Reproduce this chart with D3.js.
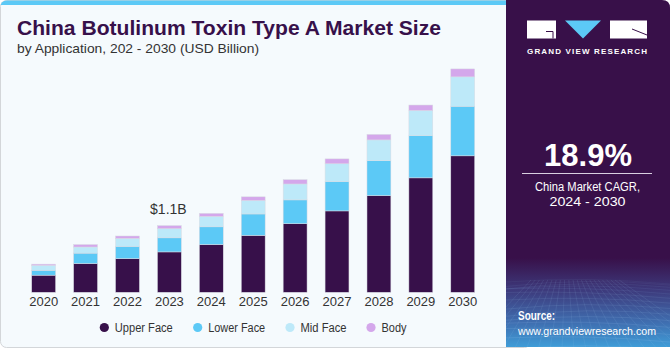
<!DOCTYPE html>
<html>
<head>
<meta charset="utf-8">
<script src="https://cdn.jsdelivr.net/npm/d3@7"></script>
<style>
  html, body { margin: 0; padding: 0; background: #ffffff; }
  svg { display: block; font-family: "Liberation Sans", Arial, sans-serif; }
</style>
</head>
<body>
<svg id="chart" width="670" height="350"></svg>
<script>
// ---- data ----
const years = ["2020","2021","2022","2023","2024","2025","2026","2027","2028","2029","2030"];
const upperFace = [0.28, 0.47, 0.55, 0.66, 0.78, 0.93, 1.12, 1.33, 1.58, 1.87, 2.23];
const lowerFace = [0.08, 0.17, 0.20, 0.23, 0.29, 0.35, 0.39, 0.48, 0.57, 0.69, 0.81];
const midFace   = [0.08, 0.10, 0.13, 0.15, 0.17, 0.22, 0.26, 0.29, 0.34, 0.41, 0.48];
const body      = [0.02, 0.04, 0.04, 0.05, 0.05, 0.06, 0.07, 0.08, 0.09, 0.09, 0.13];
const seriesNames = ["Upper Face", "Lower Face", "Mid Face", "Body"];
const seriesColors = ["#37104a", "#5cc9f6", "#bde9f9", "#d4a7eb"];
const annotationYear = "2023";
const annotationText = "$1.1B";
const titleText = "China Botulinum Toxin Type A Market Size";
const subtitleText = "by Application, 202 - 2030 (USD Billion)";
const cagrText = "18.9%";
const cagrLabel = ["China Market CAGR,", "2024 - 2030"];

// ---- build table ----
const table = years.map((y, i) => ({
  year: y,
  "Upper Face": upperFace[i],
  "Lower Face": lowerFace[i],
  "Mid Face": midFace[i],
  "Body": body[i]
}));
const stack = d3.stack().keys(seriesNames)(table);

const svg = d3.select("#chart");
const defs = svg.append("defs");

function fitText(sel, len, mode) {
  return sel.attr("textLength", len).attr("lengthAdjust", mode || "spacingAndGlyphs");
}

// ---- card background ----
defs.append("clipPath").attr("id", "cardClip")
  .append("rect").attr("x", 0.5).attr("y", 0.5).attr("width", 530).attr("height", 347).attr("rx", 6);
svg.append("rect").attr("x", 0.5).attr("y", 0.5).attr("width", 530).attr("height", 347)
  .attr("rx", 6).attr("fill", "#f5fafd").attr("stroke", "#d3d6d9").attr("stroke-width", 1);
svg.append("rect").attr("clip-path", "url(#cardClip)")
  .attr("x", 0).attr("y", 0).attr("width", 530).attr("height", 5).attr("fill", "#5cc9f6");

// ---- titles ----
fitText(svg.append("text").attr("x", 17).attr("y", 35)
  .attr("font-size", 19.5).attr("font-weight", 900).attr("fill", "#37104a")
  .text(titleText), 424);
fitText(svg.append("text").attr("x", 17).attr("y", 53)
  .attr("font-size", 13).attr("fill", "#333333")
  .text(subtitleText), 242);

// ---- scales ----
const baseY = 292.3;
const x = d3.scaleBand().domain(years).range([22.7, 483.7]).paddingInner(0.43).paddingOuter(0.215);
const y = d3.scaleLinear().domain([0, 3.7]).range([baseY, baseY - 3.7 / 0.01634]);

// ---- bars ----
const g = svg.append("g");
g.selectAll("g.series").data(stack).join("g")
  .attr("class", "series")
  .attr("fill", (d, i) => seriesColors[i])
  .selectAll("rect").data(d => d).join("rect")
  .attr("x", d => x(d.data.year))
  .attr("width", x.bandwidth())
  .attr("y", d => y(d[1]))
  .attr("height", d => y(d[0]) - y(d[1]))
  .attr("stroke", "#d8dbe3")
  .attr("stroke-width", 0.5);

// ---- x axis ----
const xAxis = d3.axisBottom(x).tickSize(0).tickPadding(0);
const axG = svg.append("g").attr("transform", `translate(0,${baseY})`).call(xAxis);
axG.select(".domain").remove();
axG.selectAll("text").attr("font-size", 13).attr("fill", "#333333")
  .attr("font-family", "Liberation Sans, Arial, sans-serif")
  .attr("dy", 0).attr("y", 14);

// ---- annotation ----
const annIdx = years.indexOf(annotationYear);
const annTotal = upperFace[annIdx] + lowerFace[annIdx] + midFace[annIdx] + body[annIdx];
svg.append("text")
  .attr("x", x(annotationYear) + x.bandwidth() / 2 - 1)
  .attr("y", y(annTotal) - 12)
  .attr("text-anchor", "middle").attr("font-size", 14).attr("fill", "#333333")
  .text(annotationText);

// ---- legend ----
const legendX = [104.3, 197.7, 290, 371];
const legendLen = [58, 57, 46, 25];
const leg = svg.append("g");
seriesNames.forEach((n, i) => {
  leg.append("circle").attr("cx", legendX[i]).attr("cy", 327.5).attr("r", 4.6).attr("fill", seriesColors[i]);
  fitText(leg.append("text").attr("x", legendX[i] + 10.5).attr("y", 332)
    .attr("font-size", 12.5).attr("fill", "#333333").text(n), legendLen[i]);
});

// ---- right panel ----
const px = 506, pw = 164, ph = 347;
const panelPath = `M${px},0 H${px + pw - 8} Q${px + pw},0 ${px + pw},8 V${ph} H${px} Z`;
defs.append("clipPath").attr("id", "panelClip").append("path").attr("d", panelPath);
svg.append("path").attr("d", panelPath).attr("fill", "#381049");

const grad = defs.append("linearGradient").attr("id", "bottomGrad")
  .attr("x1", 0).attr("y1", 0).attr("x2", 0).attr("y2", 1);
grad.append("stop").attr("offset", "0%").attr("stop-color", "#381049").attr("stop-opacity", 1);
grad.append("stop").attr("offset", "35%").attr("stop-color", "#3d3a7c");
grad.append("stop").attr("offset", "70%").attr("stop-color", "#3f6eb0");
grad.append("stop").attr("offset", "100%").attr("stop-color", "#3fa2dc");
const pg = svg.append("g").attr("clip-path", "url(#panelClip)");
pg.append("rect").attr("x", px).attr("y", 258).attr("width", pw).attr("height", 92).attr("fill", "url(#bottomGrad)");
// decorative perspective grid
const gridG = pg.append("g").attr("stroke", "#9fc8ef").attr("stroke-width", 0.5).attr("fill", "none");
for (let k = 0; k < 14; k++) {
  const yy = 282 + Math.pow(k / 13, 1.6) * 66;
  gridG.append("path").attr("d", `M${px},${yy + 4 * Math.sin(k)} Q${px + 80},${yy - 6} ${px + pw},${yy + 2}`)
    .attr("stroke-opacity", 0.12 + 0.2 * k / 13);
}
for (let k = 0; k < 22; k++) {
  const xt = px - 40 + k * 12;
  gridG.append("line").attr("x1", px + 60 + (xt - px - 60) * 0.35).attr("y1", 280)
    .attr("x2", xt).attr("y2", 350).attr("stroke-opacity", 0.22);
}

// logo
const logo = svg.append("g");
logo.append("rect").attr("x", 527).attr("y", 20.5).attr("width", 29).attr("height", 18).attr("fill", "#ffffff");
logo.append("path").attr("d", "M546,31.5 H553 V38.5").attr("stroke", "#381049").attr("stroke-width", 1).attr("fill", "none");
logo.append("path").attr("d", "M565,20.5 H601 L583,38.5 Z").attr("fill", "#5cc9f6");
logo.append("rect").attr("x", 610).attr("y", 20.5).attr("width", 37).attr("height", 18).attr("fill", "#ffffff");
logo.append("path").attr("d", "M632,29 L647,35").attr("stroke", "#381049").attr("stroke-width", 1);
fitText(logo.append("text").attr("x", 527).attr("y", 54)
  .attr("font-size", 8).attr("font-weight", 700).attr("fill", "#ffffff")
  .text("GRAND VIEW RESEARCH"), 120, "spacing");

// CAGR
svg.append("text").attr("x", 588).attr("y", 166).attr("text-anchor", "middle")
  .attr("font-size", 31).attr("font-weight", 700).attr("fill", "#ffffff").text(cagrText);
svg.append("line").attr("x1", 522).attr("x2", 652).attr("y1", 173.5).attr("y2", 173.5)
  .attr("stroke", "#d8cfe0").attr("stroke-width", 1);
const cagrLen = [105, 76];
cagrLabel.forEach((t, i) => {
  fitText(svg.append("text").attr("x", 587.5).attr("y", 190.5 + i * 15).attr("text-anchor", "middle")
    .attr("font-size", 12.5).attr("fill", "#ffffff").text(t), cagrLen[i]);
});

// source
fitText(svg.append("text").attr("x", 518).attr("y", 320).attr("font-size", 12).attr("font-weight", 700)
  .attr("fill", "#ffffff").text("Source:"), 37);
fitText(svg.append("text").attr("x", 518).attr("y", 334.5).attr("font-size", 11)
  .attr("fill", "#ffffff").text("www.grandviewresearch.com"), 138);
</script>
</body>
</html>
